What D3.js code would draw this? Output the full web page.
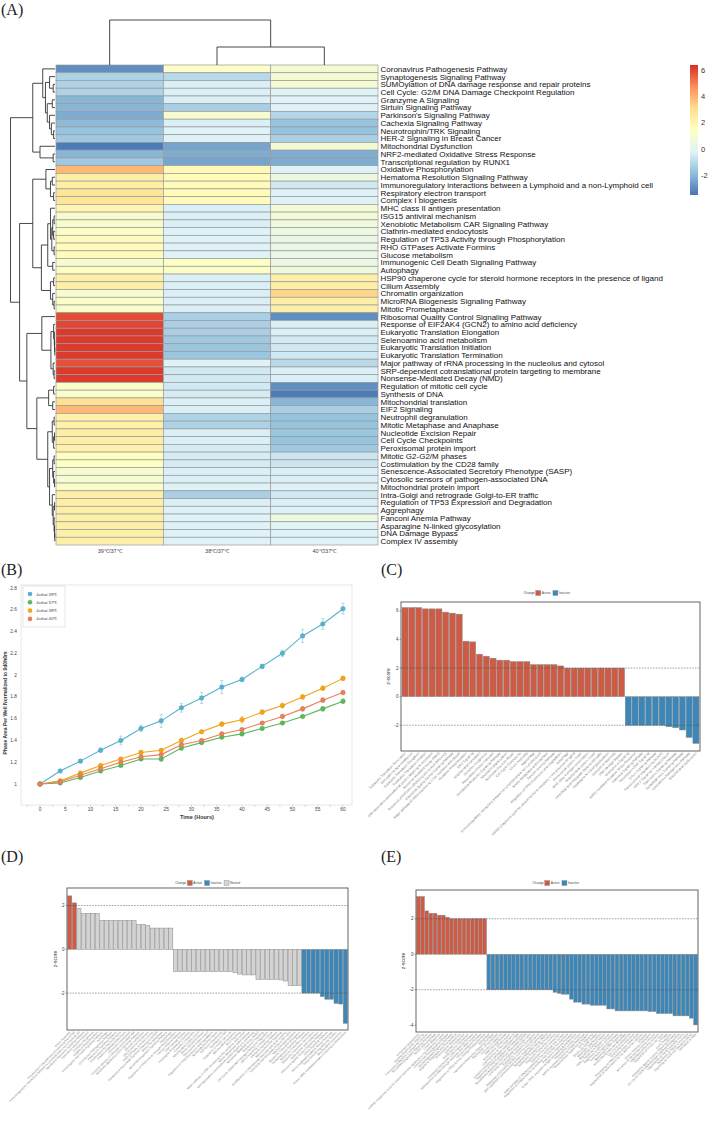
<!DOCTYPE html>
<html><head><meta charset="utf-8">
<script src="https://cdn.jsdelivr.net/npm/d3@7"></script>
<style>body{margin:0;background:#fff}svg{display:block}</style>
</head><body>
<svg id="c" width="711" height="1124"></svg>
<script>
// ================= DATA =================
// ---- Panel A: heatmap ----
const pathways = [
"Coronavirus Pathogenesis Pathway","Synaptogenesis Signaling Pathway","SUMOylation of DNA damage response and repair proteins",
"Cell Cycle: G2/M DNA Damage Checkpoint Regulation","Granzyme A Signaling","Sirtuin Signaling Pathway","Parkinson's Signaling Pathway",
"Cachexia Signaling Pathway","Neurotrophin/TRK Signaling","HER-2 Signaling in Breast Cancer","Mitochondrial Dysfunction",
"NRF2-mediated Oxidative Stress Response","Transcriptional regulation by RUNX1","Oxidative Phosphorylation",
"Hematoma Resolution Signaling Pathway","Immunoregulatory interactions between a Lymphoid and a non-Lymphoid cell",
"Respiratory electron transport","Complex I biogenesis","MHC class II antigen presentation","ISG15 antiviral mechanism",
"Xenobiotic Metabolism CAR Signaling Pathway","Clathrin-mediated endocytosis","Regulation of TP53 Activity through Phosphorylation",
"RHO GTPases Activate Formins","Glucose metabolism","Immunogenic Cell Death Signaling Pathway","Autophagy",
"HSP90 chaperone cycle for steroid hormone receptors in the presence of ligand","Cilium Assembly","Chromatin organization",
"MicroRNA Biogenesis Signaling Pathway","Mitotic Prometaphase","Ribosomal Quality Control Signaling Pathway",
"Response of EIF2AK4 (GCN2) to amino acid deficiency","Eukaryotic Translation Elongation","Selenoamino acid metabolism",
"Eukaryotic Translation Initiation","Eukaryotic Translation Termination","Major pathway of rRNA processing in the nucleolus and cytosol",
"SRP-dependent cotranslational protein targeting to membrane","Nonsense-Mediated Decay (NMD)","Regulation of mitotic cell cycle",
"Synthesis of DNA","Mitochondrial translation","EIF2 Signaling","Neutrophil degranulation","Mitotic Metaphase and Anaphase",
"Nucleotide Excision Repair","Cell Cycle Checkpoints","Peroxisomal protein import","Mitotic G2-G2/M phases",
"Costimulation by the CD28 family","Senescence-Associated Secretory Phenotype (SASP)","Cytosolic sensors of pathogen-associated DNA",
"Mitochondrial protein import","Intra-Golgi and retrograde Golgi-to-ER traffic","Regulation of TP53 Expression and Degradation",
"Aggrephagy","Fanconi Anemia Pathway","Asparagine N-linked glycosylation","DNA Damage Bypass","Complex IV assembly"];
const comparisons = ["39\u2103/37\u2103","38\u2103/37\u2103","40\u2103/37\u2103"];
const z39vs37 = [-2.9,-1.2,-1.2,-1.2,-2.0,-2.0,-2.2,-1.9,-1.7,-1.5,-3.3,-2.0,-1.5,3.9,2.3,2.3,2.8,2.8,2.0,1.1,1.1,1.2,1.6,1.6,1.7,1.0,1.3,2.3,2.3,1.0,1.2,1.2,
  5.9,6.0,6.2,6.2,6.2,6.2,5.8,6.2,6.2,1.2,1.2,3.0,3.9,2.2,2.2,2.4,2.4,2.2,1.4,1.4,1.0,1.0,1.2,2.3,2.3,2.3,2.3,2.3,2.3,2.3];
const z38vs37 = [1.3,-1.0,-0.3,-0.3,-0.3,-1.3,1.0,-0.3,-0.2,-0.2,-2.4,-2.2,-2.4,1.8,1.7,1.7,1.7,1.7,-0.3,-0.3,-0.3,-0.2,-0.2,-0.2,-0.2,1.3,1.3,-0.3,-0.3,-0.3,-0.3,-0.3,
  -1.3,-1.3,-1.3,-1.5,-1.6,-1.6,-0.2,-0.5,-0.5,-0.5,-0.4,-0.3,-0.3,-1.2,-1.2,-0.3,-0.3,-0.4,-0.4,-0.4,-0.3,-0.3,-0.2,-1.3,-0.3,-0.2,-0.2,-0.2,-0.2,-0.2];
const z40vs37 = [0.9,0.9,0.9,-0.1,-0.2,-0.2,-1.1,-1.7,-1.7,-1.3,0.8,-2.2,-2.2,-0.2,0.5,-0.5,-0.2,-0.2,0.8,0.8,0.6,0.5,0.4,0.4,0.3,0.4,0.6,2.3,2.3,3.3,2.3,2.3,
  -2.9,-0.3,-0.3,-0.5,-0.5,-0.5,-1.0,-0.3,-0.3,-2.9,-3.3,-2.0,-1.3,-1.7,-1.7,-1.6,-1.7,-1.5,-0.6,-0.6,-0.3,-0.3,-0.2,-0.5,-0.3,-0.2,0.5,-0.1,-0.2,-0.2];
const colorbarRange = [-3.45, 6.38];
const colorbarTicks = [-2, 0, 2, 4, 6];
const heatPalette = ["#4575B4","#91BFDB","#E0F3F8","#FFFFBF","#FEE090","#FC8D59","#D73027"];
// dendrograms: [height, left, right]; leaves are row/column indices
const rowTree =
[9.8,
  [4.9,
    [2.7, 0,
      [2.1,
        [1.2, 1, [0.4, 2, 3]],
        [1.7, [0.6, 4, 5], [1.2, 6, [0.8, 7, [0.3, 8, 9]]]]]],
    [3.3, 10, [0.4, 11, 12]]],
  [7.8,
    [4.9,
      [2.0, 13, [1.0, [0.6, 14, 15], [0.3, 16, 17]]],
      [3.0,
        [1.6, [1.0, 18, [0.7, [0.5, [0.2, 19, 20], [0.3, 21, 22]], [0.2, 23, 24]]], [0.5, 25, 26]],
        [1.0, [0.3, 27, 28], [0.5, 29, [0.2, 30, 31]]]]],
    [6.2,
      [2.9, 32, [0.9, [0.3, 33, [0.15, 34, [0.1, 35, [0.05, 36, 37]]]], [0.4, 38, [0.2, 39, 40]]]],
      [4.0,
        [1.4, [0.3, 41, 42], [0.5, 43, 44]],
        [1.6, [0.6, [0.2, 45, 46], [0.3, [0.1, 47, 48], 49]],
              [1.2, [0.5, [0.2, 50, 51], [0.3, 52, [0.1, 53, 54]]],
                    [0.6, 55, [0.4, [0.1, 56, 57], [0.2, 58, [0.1, 59, [0.05, 60, 61]]]]]]]]]]];
const colTree = [4.5, 0, [1.8, 1, 2]];

// ---- Panel B: growth curves ----
const hours = [0,4,8,12,16,20,24,28,32,36,40,44,48,52,56,60];
const seriesNames = ["Jurkat 39\u2103","Jurkat 37\u2103","Jurkat 38\u2103","Jurkat 40\u2103"];
const seriesColors = ["#56b2cf","#5cb85c","#f2a516","#e8805a"];
const jurkat39 = [1.00,1.12,1.21,1.31,1.40,1.51,1.58,1.70,1.79,1.89,1.96,2.08,2.20,2.36,2.47,2.61];
const jurkat37 = [1.00,1.01,1.06,1.12,1.17,1.23,1.23,1.33,1.38,1.43,1.46,1.51,1.56,1.62,1.69,1.76];
const jurkat38 = [1.00,1.03,1.10,1.17,1.23,1.29,1.31,1.40,1.48,1.55,1.59,1.66,1.72,1.80,1.88,1.97];
const jurkat40 = [1.00,1.02,1.08,1.14,1.20,1.25,1.27,1.36,1.40,1.46,1.50,1.56,1.62,1.69,1.77,1.84];
const err39 = [0,0.01,0.01,0.02,0.04,0.03,0.06,0.04,0.05,0.06,0.02,0.02,0.03,0.06,0.05,0.05];
const err37 = [0,0.01,0.01,0.01,0.01,0.01,0.02,0.02,0.01,0.01,0.01,0.01,0.01,0.01,0.02,0.02];
const err38 = [0,0.01,0.01,0.01,0.01,0.01,0.01,0.02,0.01,0.02,0.03,0.02,0.02,0.02,0.02,0.02];
const err40 = [0,0.01,0.01,0.01,0.01,0.01,0.01,0.02,0.01,0.01,0.01,0.01,0.02,0.02,0.02,0.02];
const bYTicks = [1,1.2,1.4,1.6,1.8,2,2.2,2.4,2.6,2.8];
const bXTicks = [0,5,10,15,20,25,30,35,40,45,50,55,60];

// ---- Panel C: 39/37 z-scores ----
const cLabels = ["Eukaryotic Translation Termination","Selenoamino acid metabolism","Eukaryotic Translation Elongation",
"Eukaryotic Translation Initiation","SRP-dependent cotranslational protein targeting to membrane","Nonsense-Mediated Decay (NMD)",
"Response of EIF2AK4 (GCN2) to amino acid deficiency","Ribosomal Quality Control Signaling Pathway",
"Major pathway of rRNA processing in the nucleolus and cytosol","Oxidative Phosphorylation","EIF2 Signaling",
"Mitochondrial translation","Complex I biogenesis","Respiratory electron transport","Hematoma Resolution Signaling Pathway",
"Neutrophil degranulation","Nucleotide Excision Repair","Cell Cycle Checkpoints","Cilium Assembly","Aggrephagy",
"Immunoregulatory interactions between a Lymphoid and a non-Lymphoid cell","Mitotic Metaphase and Anaphase",
"Fanconi Anemia Pathway","Regulation of TP53 Expression and Degradation","Autophagy",
"HSP90 chaperone cycle for steroid hormone receptors in the presence of ligand","Peroxisomal protein import",
"MHC class II antigen presentation","Mitochondrial protein import","Intra-Golgi and retrograde Golgi-to-ER traffic",
"Asparagine N-linked glycosylation","Complex IV assembly","DNA Damage Bypass","Granzyme A Signaling",
"NRF2-mediated Oxidative Stress Response","Cachexia Signaling Pathway","Neurotrophin/TRK Signaling","Sirtuin Signaling Pathway",
"Transcriptional regulation by RUNX1","HER-2 Signaling in Breast Cancer","Parkinson's Signaling Pathway",
"Synaptogenesis Signaling Pathway","Coronavirus Pathogenesis Pathway","Mitochondrial Dysfunction"];
const cValues = [6.23,6.23,6.23,6.14,6.14,6.14,5.91,5.84,5.77,3.88,3.83,2.97,2.83,2.69,2.55,2.55,2.45,2.45,2.45,2.24,2.24,2.24,2.24,2.15,
  2.0,2.0,2.0,2.0,2.0,2.0,2.0,2.0,2.0,-2.0,-2.0,-2.0,-2.0,-2.0,-2.0,-2.1,-2.17,-2.33,-2.85,-3.27];

// ---- Panel D: 38/37 z-scores ----
const dLabels = ["Cilium Assembly","Processing of Capped Intron-Containing Pre-mRNA",
"Immunoregulatory interactions between a Lymphoid and a non-Lymphoid cell","Hematoma Resolution Signaling Pathway",
"Respiratory electron transport","Complex I biogenesis","Oxidative Phosphorylation","Immunogenic Cell Death Signaling Pathway",
"Autophagy","Coronavirus Pathogenesis Pathway","Parkinson's Signaling Pathway","Costimulation by the CD28 family",
"Clathrin-mediated endocytosis","Chromatin organization","Cytosolic sensors of pathogen-associated DNA",
"Xenobiotic Metabolism CAR Signaling Pathway","Glucose metabolism","ISG15 antiviral mechanism","RHO GTPases Activate Formins",
"Senescence-Associated Secretory Phenotype (SASP)","Mitotic Prometaphase","MicroRNA Biogenesis Signaling Pathway","Aggrephagy",
"Regulation of TP53 Activity through Phosphorylation","Fanconi Anemia Pathway","DNA Damage Bypass",
"Asparagine N-linked glycosylation","Complex IV assembly","Mitochondrial protein import","Mitotic G2-G2/M phases",
"Peroxisomal protein import","Regulation of TP53 Expression and Degradation","Nucleotide Excision Repair",
"Cell Cycle Checkpoints","Synthesis of DNA","Regulation of mitotic cell cycle","Mitochondrial translation","EIF2 Signaling",
"Major pathway of rRNA processing in the nucleolus and cytosol","Mitotic Metaphase and Anaphase",
"SRP-dependent cotranslational protein targeting to membrane","Nonsense-Mediated Decay (NMD)","Granzyme A Signaling",
"Cell Cycle: G2/M DNA Damage Checkpoint Regulation","HER-2 Signaling in Breast Cancer","Cachexia Signaling Pathway",
"Neurotrophin/TRK Signaling","SUMOylation of DNA damage response and repair proteins","Intra-Golgi and retrograde Golgi-to-ER traffic",
"Neutrophil degranulation","Eukaryotic Translation Elongation","Synaptogenesis Signaling Pathway",
"Eukaryotic Translation Initiation","Eukaryotic Translation Termination","Selenoamino acid metabolism",
"Ribosomal Quality Control Signaling Pathway","Sirtuin Signaling Pathway","NRF2-mediated Oxidative Stress Response",
"Transcriptional regulation by RUNX1","Mitochondrial Dysfunction","Class I MHC mediated antigen processing & presentation"];
const dValues = [2.44,2.12,1.87,1.64,1.64,1.64,1.64,1.32,1.32,1.32,1.32,1.32,1.32,1.32,1.32,1.14,1.14,1.08,0.97,0.97,0.97,0.97,0.97,
  -1.02,-1.02,-1.02,-1.02,-1.02,-1.02,-1.02,-1.02,-1.02,-1.02,-1.02,-1.02,-1.02,-1.07,-1.13,-1.17,-1.17,-1.17,
  -1.37,-1.37,-1.37,-1.37,-1.37,-1.40,-1.45,-1.66,-1.66,-1.66,
  -2.0,-2.0,-2.0,-2.0,-2.16,-2.28,-2.28,-2.47,-2.50,-3.38];

// ---- Panel E: 40/37 z-scores ----
const eLabels = ["Chromatin organization","Histone Modification Signaling","Formation of RNA Pol II elongation complex",
"MicroRNA Biogenesis Signaling Pathway","Mitotic Prometaphase","Cilium Assembly",
"HSP90 chaperone cycle for steroid hormone receptors in the presence of ligand","Coronavirus Pathogenesis Pathway",
"Synaptogenesis Signaling Pathway","Organelle biogenesis and maintenance","Mitochondrial Dysfunction","Glucose metabolism",
"ISG15 antiviral mechanism","Xenobiotic Metabolism CAR Signaling Pathway","SUMOylation of DNA damage response and repair proteins",
"Fanconi Anemia Pathway","Regulation of TP53 Activity through Phosphorylation","Autophagy","Hematoma Resolution Signaling Pathway",
"Metabolism of nucleotides","Complex IV assembly","DNA Damage Bypass","Mitochondrial protein import",
"Costimulation by the CD28 family","Cytosolic sensors of pathogen-associated DNA","Regulation of TP53 Expression and Degradation",
"Senescence-Associated Secretory Phenotype (SASP)","Intra-Golgi and retrograde Golgi-to-ER traffic",
"Eukaryotic Translation Elongation","Response of EIF2AK4 (GCN2) to amino acid deficiency",
"SRP-dependent cotranslational protein targeting to membrane","Nonsense-Mediated Decay (NMD)",
"Eukaryotic Translation Termination","Eukaryotic Translation Initiation","Selenoamino acid metabolism",
"Major pathway of rRNA processing in the nucleolus and cytosol","Regulation of mRNA stability by proteins that bind AU-rich elements",
"Parkinson's Signaling Pathway","Class I MHC mediated antigen processing & presentation","Peroxisomal protein import",
"NRF2-mediated Oxidative Stress Response","Transcriptional regulation by RUNX1","EIF2 Signaling","Mitotic G2-G2/M phases",
"Neutrophil degranulation","Nucleotide Excision Repair","HER-2 Signaling in Breast Cancer","Regulation of APC/C activators",
"Cachexia Signaling Pathway","Neurotrophin/TRK Signaling","Mitotic Metaphase and Anaphase","Cell Cycle Checkpoints",
"Mitochondrial translation","Processing of DNA double-strand break ends","Degradation of beta-catenin by the destruction complex",
"Kinesins","Mitotic Spindle Checkpoint","Activation of the pre-replicative complex","DNA Replication Pre-Initiation",
"Regulation of mitotic cell cycle","S Phase","G1/S Transition","Ribosomal Quality Control Signaling Pathway",
"Cell Cycle: G2/M DNA Damage Checkpoint Regulation","Degradation of the extracellular matrix",
"Separation of Sister Chromatids","Signaling by the B Cell Receptor (BCR)","Synthesis of DNA"];
const eValues = [3.25,3.25,2.44,2.31,2.31,2.2,2.2,2.08,2.0,2.0,2.0,2.0,2.0,2.0,2.0,2.0,2.0,
  -2.0,-2.0,-2.0,-2.0,-2.0,-2.0,-2.0,-2.0,-2.0,-2.0,-2.0,-2.0,-2.0,-2.0,-2.0,-2.0,
  -2.14,-2.2,-2.25,-2.25,-2.53,-2.7,-2.7,-2.81,-2.81,-2.87,-2.87,-2.87,-2.87,-3.08,-3.08,
  -3.19,-3.19,-3.19,-3.19,-3.19,-3.19,-3.19,-3.19,-3.23,-3.23,-3.34,-3.34,-3.34,-3.34,-3.47,-3.47,-3.47,-3.47,-3.6,-3.98];

const changeColors = {Active:"#cd5b45", Inactive:"#3b87b9", Neutral:"#d3d3d3"};

// ================= DRAWING =================
const svg = d3.select("#c");
const SANS = "'Liberation Sans', Arial, sans-serif";
const SERIF = "'Liberation Serif', 'DejaVu Serif', serif";

function panelLetter(t, x, y){
  svg.append("text").attr("x",x).attr("y",y).attr("font-family",SERIF).attr("font-size",16).attr("fill","#222").text(t);
}
panelLetter("(A)",1,15); panelLetter("(B)",1,575); panelLetter("(C)",381,575); panelLetter("(D)",1,862); panelLetter("(E)",381,862);

// ---------- Panel A ----------
(function(){
  const g = svg.append("g");
  const hx0 = 56, hx1 = 378, hy0 = 65, hy1 = 545;
  const yB = d3.scaleBand().domain(d3.range(pathways.length)).range([hy0,hy1]);
  const xB = d3.scaleBand().domain(d3.range(comparisons.length)).range([hx0,hx1]);
  const cmap = d3.scaleLinear()
    .domain(d3.range(heatPalette.length).map(i => colorbarRange[0] + i*(colorbarRange[1]-colorbarRange[0])/(heatPalette.length-1)))
    .range(heatPalette).interpolate(d3.interpolateRgb).clamp(true);
  const cols = [z39vs37, z38vs37, z40vs37];
  const cells = [];
  cols.forEach((arr,ci) => arr.forEach((v,ri) => cells.push({ci,ri,v})));
  g.selectAll("rect.cell").data(cells).enter().append("rect")
    .attr("x", d => xB(d.ci)).attr("y", d => yB(d.ri))
    .attr("width", xB.bandwidth()).attr("height", yB.bandwidth())
    .attr("fill", d => cmap(d.v)).attr("stroke","#9a9a9a").attr("stroke-width",0.7);
  g.selectAll("text.rl").data(pathways).enter().append("text")
    .attr("x", hx1+2.5).attr("y",(d,i)=> yB(i)+yB.bandwidth()/2+2.9)
    .attr("font-family",SANS).attr("font-size",8).attr("fill","#111").text(d=>d);
  g.selectAll("text.cl").data(comparisons).enter().append("text")
    .attr("x",(d,i)=> xB(i)+xB.bandwidth()/2).attr("y",hy1+8).attr("text-anchor","middle")
    .attr("font-family",SANS).attr("font-size",5.5).attr("fill","#444").text(d=>d);
  const rowH = d3.scaleLinear().domain([0, rowTree[0]]).range([55, 10.5]);
  const colH = d3.scaleLinear().domain([0, colTree[0]]).range([hy0, 20]);
  const dg = g.append("g").attr("fill","none").attr("stroke","#333").attr("stroke-width",0.9);
  function walkRow(n){
    if (typeof n === "number") return {p: yB(n)+yB.bandwidth()/2, h:0};
    const A = walkRow(n[1]), B = walkRow(n[2]), x = rowH(n[0]);
    dg.append("path").attr("d",`M${rowH(A.h)},${A.p}H${x}V${B.p}H${rowH(B.h)}`);
    return {p:(A.p+B.p)/2, h:n[0]};
  }
  function walkCol(n){
    if (typeof n === "number") return {p: xB(n)+xB.bandwidth()/2, h:0};
    const A = walkCol(n[1]), B = walkCol(n[2]), y = colH(n[0]);
    dg.append("path").attr("d",`M${A.p},${colH(A.h)}V${y}H${B.p}V${colH(B.h)}`);
    return {p:(A.p+B.p)/2, h:n[0]};
  }
  walkRow(rowTree); walkCol(colTree);
  const cb = d3.scaleLinear().domain(colorbarRange).range([195,65]);
  const defs = svg.append("defs");
  const grad = defs.append("linearGradient").attr("id","cbg").attr("x1",0).attr("y1",1).attr("x2",0).attr("y2",0);
  heatPalette.forEach((c,i)=> grad.append("stop").attr("offset", i/(heatPalette.length-1)).attr("stop-color",c));
  g.append("rect").attr("x",690).attr("y",cb(colorbarRange[1])).attr("width",8)
    .attr("height",cb(colorbarRange[0])-cb(colorbarRange[1])).attr("fill","url(#cbg)");
  g.selectAll("text.cbt").data(colorbarTicks).enter().append("text")
    .attr("x",701).attr("y",d=>cb(d)+2.5).attr("font-family",SANS).attr("font-size",7.5).attr("fill","#333").text(d=>d);
})();

// ---------- Panel B ----------
(function(){
  const g = svg.append("g");
  const x = d3.scaleLinear().domain([0,60]).range([40,343]);
  const y = d3.scaleLinear().domain([1,2.8]).range([784,588]);
  const fx0 = 21, fx1 = 352, fy0 = 585, fy1 = 805;
  g.append("rect").attr("x",fx0).attr("y",fy0).attr("width",fx1-fx0).attr("height",fy1-fy0)
    .attr("fill","none").attr("stroke","#e2e2e2").attr("stroke-width",0.8);
  g.selectAll("text.yt").data(bYTicks).enter().append("text")
    .attr("x",17).attr("y",d=>y(d)+1.6).attr("text-anchor","end")
    .attr("font-family",SANS).attr("font-size",4.8).attr("fill","#444").text(d=>String(+d.toFixed(1)));
  const minor = d3.range(-2.5, 60.01, 2.5);
  g.selectAll("line.xt").data(minor).enter().append("line")
    .attr("x1",d=>x(d)).attr("x2",d=>x(d)).attr("y1",fy1).attr("y2",fy1+1.8).attr("stroke","#bbb").attr("stroke-width",0.6);
  g.selectAll("text.xt").data(bXTicks).enter().append("text")
    .attr("x",d=>x(d)).attr("y",fy1+5.5).attr("text-anchor","middle")
    .attr("font-family",SANS).attr("font-size",4.8).attr("fill","#444").text(d=>d);
  g.append("text").attr("x",197).attr("y",819).attr("text-anchor","middle").attr("font-family",SANS)
    .attr("font-weight","bold").attr("font-size",5.5).attr("fill","#333").text("Time (Hours)");
  g.append("text").attr("transform","translate(6.5,703) rotate(-90)").attr("text-anchor","middle").attr("font-family",SANS)
    .attr("font-weight","bold").attr("font-size",5).attr("fill","#333").text("Phase  Area Per Well Normalized to 0d0h0m");
  const series = [jurkat39, jurkat37, jurkat38, jurkat40];
  const errs = [err39, err37, err38, err40];
  const line = d3.line().x((d,i)=>x(hours[i])).y(d=>y(d));
  series.forEach((s,si)=>{
    const col = seriesColors[si];
    const eg = g.append("g").attr("stroke",col).attr("stroke-width",0.6).attr("opacity",0.75);
    s.forEach((v,i)=>{
      const e = errs[si][i]; if (!e) return;
      const cx = x(hours[i]);
      eg.append("line").attr("x1",cx).attr("x2",cx).attr("y1",y(v-e)).attr("y2",y(v+e));
      eg.append("line").attr("x1",cx-1.5).attr("x2",cx+1.5).attr("y1",y(v-e)).attr("y2",y(v-e));
      eg.append("line").attr("x1",cx-1.5).attr("x2",cx+1.5).attr("y1",y(v+e)).attr("y2",y(v+e));
    });
    g.append("path").datum(s).attr("d",line).attr("fill","none").attr("stroke",col).attr("stroke-width",1.1);
    g.selectAll(null).data(s).enter().append("circle")
      .attr("cx",(d,i)=>x(hours[i])).attr("cy",d=>y(d)).attr("r",2.3)
      .attr("fill",col).attr("stroke",d3.color(col).darker(0.4)).attr("stroke-width",0.4);
  });
  g.append("rect").attr("x",23).attr("y",586).attr("width",42).attr("height",41)
    .attr("fill","#fff").attr("stroke","#d5d5d5").attr("stroke-width",0.6);
  seriesNames.forEach((n,i)=>{
    g.append("circle").attr("cx",30).attr("cy",594+i*8.3).attr("r",2.3).attr("fill",seriesColors[i]);
    g.append("text").attr("x",36).attr("y",594+i*8.3+1.5).attr("font-family",SANS).attr("font-size",4.2).attr("fill","#444").text(n);
  });
})();

// ---------- Bar panels ----------
function barPanel(o){
  const g = svg.append("g");
  const x = d3.scaleBand().domain(d3.range(o.values.length)).range([o.x0,o.x1]).paddingInner(0.1).paddingOuter(0.15);
  const y = d3.scaleLinear().domain(o.domain).range([o.y1,o.y0]);
  const cat = v => v >= 2 ? "Active" : (v <= -2 ? "Inactive" : "Neutral");
  g.selectAll("rect.bar").data(o.values).enter().append("rect")
    .attr("x",(d,i)=>x(i)).attr("width",x.bandwidth())
    .attr("y",d=>y(Math.max(0,d))).attr("height",d=>Math.abs(y(d)-y(0)))
    .attr("fill",d=>changeColors[cat(d)]).attr("stroke","#8a8a8a").attr("stroke-width",0.5);
  g.selectAll("line.ref").data([2,-2]).enter().append("line")
    .attr("x1",o.x0).attr("x2",o.x1).attr("y1",d=>y(d)).attr("y2",d=>y(d))
    .attr("stroke","#444").attr("stroke-width",0.5).attr("stroke-dasharray","1.6,1.2");
  g.append("rect").attr("x",o.x0).attr("y",o.y0).attr("width",o.x1-o.x0).attr("height",o.y1-o.y0)
    .attr("fill","none").attr("stroke","#555").attr("stroke-width",0.9);
  g.selectAll("line.yt").data(o.ticks).enter().append("line")
    .attr("x1",o.x0-1.5).attr("x2",o.x0).attr("y1",d=>y(d)).attr("y2",d=>y(d)).attr("stroke","#555").attr("stroke-width",0.5);
  g.selectAll("text.yt").data(o.ticks).enter().append("text")
    .attr("x",o.x0-2.5).attr("y",d=>y(d)+1.5).attr("text-anchor","end")
    .attr("font-family",SANS).attr("font-size",4.5).attr("fill","#444").text(d=>d);
  g.append("text").attr("transform",`translate(${o.zx},${(o.y0+o.y1)/2}) rotate(-90)`).attr("text-anchor","middle")
    .attr("font-family",SANS).attr("font-size",5).attr("fill","#333").text("z-score");
  g.selectAll("text.xl").data(o.labels).enter().append("text")
    .attr("transform",(d,i)=>`translate(${x(i)+x.bandwidth()/2+1},${o.y1+2.5}) rotate(-45)`)
    .attr("text-anchor","end").attr("font-family",SANS).attr("font-size",o.labelSize).attr("fill","#777").text(d=>d);
  const lg = g.append("g");
  const fs = 3.2;
  let cx = 0;
  const t0 = lg.append("text").attr("x",cx).attr("y",1.2).attr("font-family",SANS).attr("font-size",fs).attr("fill","#444").text("Change");
  cx += t0.node().getComputedTextLength()+1;
  o.legend.forEach(k=>{
    lg.append("rect").attr("x",cx).attr("y",-2.5).attr("width",5).attr("height",5)
      .attr("fill",changeColors[k]).attr("stroke","#8a8a8a").attr("stroke-width",0.4);
    cx += 6;
    const t = lg.append("text").attr("x",cx).attr("y",1.2).attr("font-family",SANS).attr("font-size",fs).attr("fill","#444").text(k);
    cx += t.node().getComputedTextLength()+2.5;
  });
  lg.attr("transform",`translate(${o.legendCx - cx/2},${o.legendY})`);
}
barPanel({values:cValues, labels:cLabels, x0:401, x1:700, y0:602, y1:751, domain:[-3.8,6.62], ticks:[-2,0,2,4,6],
  zx:390, legend:["Active","Inactive"], legendCx:548, legendY:593, labelSize:3.3});
barPanel({values:dValues, labels:dLabels, x0:67, x1:348, y0:888, y1:1030, domain:[-3.685,2.8], ticks:[-2,0,2],
  zx:57, legend:["Active","Inactive","Neutral"], legendCx:209, legendY:883, labelSize:2.9});
barPanel({values:eValues, labels:eLabels, x0:416, x1:698, y0:890, y1:1032, domain:[-4.38,3.62], ticks:[-4,-2,0,2],
  zx:405, legend:["Active","Inactive"], legendCx:557, legendY:883, labelSize:3.0});
</script>
</body></html>
